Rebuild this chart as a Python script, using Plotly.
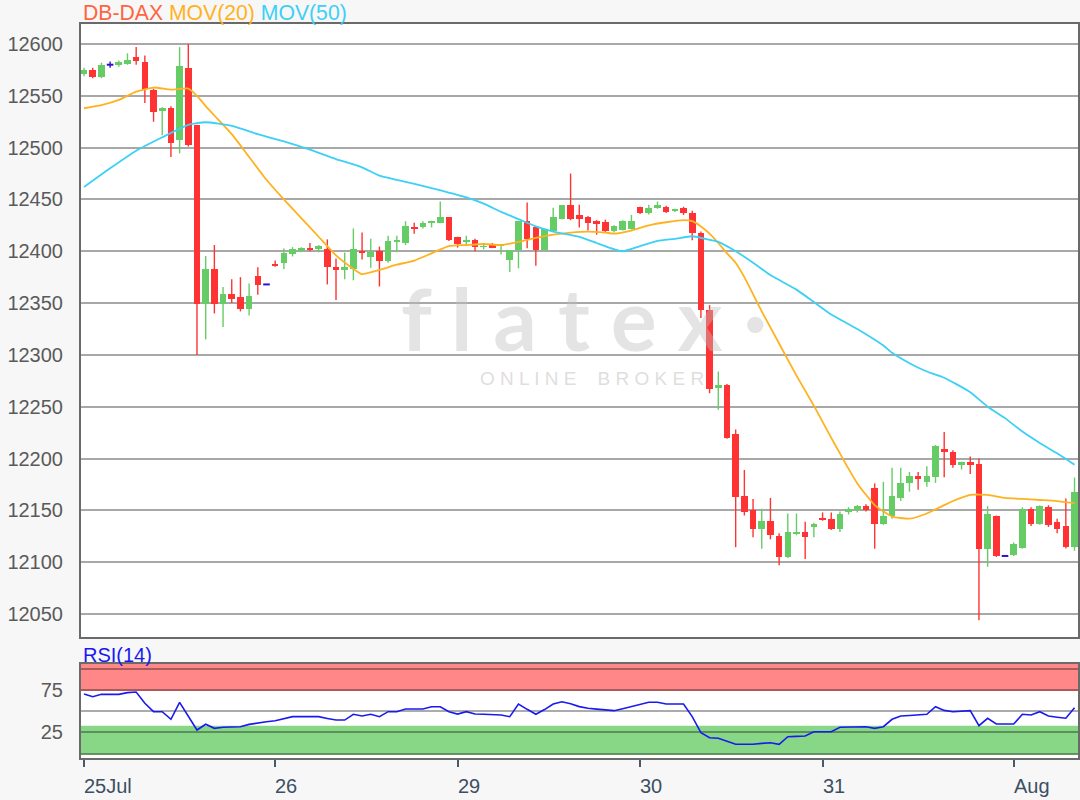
import plotly.graph_objects as go

# ---------------- data ----------------
opens = [12571, 12575, 12568, 12580, 12580, 12581, 12587, 12583, 12556, 12535,
         12538.6, 12507, 12577, 12522, 12349, 12383, 12349, 12359, 12355.6, 12344,
         12376, 12368, 12388, 12388.5, 12397, 12400, 12403.5, 12402.5, 12402, 12385,
         12382, 12383, 12400.3, 12394, 12400, 12391, 12409, 12408, 12423.4, 12423,
         12427, 12427.5, 12433, 12414, 12409, 12411, 12404.5, 12407, 12405.5, 12391.5,
         12401, 12429.4, 12423, 12401, 12420, 12431, 12444.3, 12435, 12432.6, 12429.4,
         12428, 12420, 12421, 12421.5, 12442.7, 12437, 12442, 12443, 12439, 12442,
         12436.5, 12418, 12343, 12268, 12271, 12223.5, 12163.5, 12150, 12132, 12140,
         12125, 12105, 12127, 12129, 12134, 12142, 12142, 12132, 12148, 12150,
         12154, 12172, 12137, 12144.4, 12161.5, 12176, 12183, 12177.5, 12182, 12209.6,
         12206.4, 12193.6, 12196.8, 12195, 12113, 12144.4, 12106, 12107, 12114, 12151,
         12137, 12153.4, 12139, 12135, 12115]
highs = [12577, 12577, 12582, 12583, 12584, 12591, 12597, 12589, 12557, 12539,
         12540, 12597, 12600, 12522, 12395.5, 12406, 12365.5, 12373, 12375, 12369,
         12384.6, 12368, 12391, 12402.6, 12404, 12404, 12408, 12406, 12411.5, 12393,
         12398.7, 12422, 12418, 12412, 12404.5, 12415, 12415, 12429, 12427.6, 12429,
         12429.5, 12448, 12433, 12414, 12415, 12412, 12407, 12408, 12407, 12401,
         12429.4, 12447, 12423, 12422, 12442, 12444.3, 12475, 12445, 12434, 12430,
         12430.5, 12425, 12430, 12435, 12443, 12445, 12448, 12444, 12441, 12443,
         12439, 12419, 12348, 12284, 12272, 12228, 12189, 12161, 12151.6, 12162,
         12128, 12147, 12147, 12139, 12138, 12148, 12148, 12149, 12153, 12155,
         12156, 12176, 12177.5, 12191, 12191, 12187, 12187, 12192.6, 12213, 12225.7,
         12208, 12197, 12202, 12200, 12154, 12145, 12106, 12119, 12153, 12153,
         12155, 12155, 12142, 12161.5, 12181.7]
lows = [12569, 12567, 12567, 12577, 12578, 12580, 12580, 12543, 12525, 12512,
        12491, 12494.5, 12501, 12300, 12315, 12340, 12327, 12350, 12342, 12338,
        12358, 12368, 12385, 12383, 12395, 12399, 12400, 12399, 12368, 12353,
        12373, 12372, 12392, 12384, 12366, 12389, 12399, 12406, 12417, 12422,
        12423, 12427, 12410, 12403.5, 12405, 12400, 12402, 12403, 12397, 12380,
        12383.5, 12403, 12386, 12401, 12420, 12431, 12430, 12423, 12420, 12416,
        12418, 12418, 12420, 12421, 12436, 12435.5, 12441, 12437, 12438, 12435,
        12410.6, 12335.5, 12263, 12247, 12219, 12114.5, 12145, 12124, 12113, 12122,
        12097, 12104, 12126, 12103, 12124, 12140, 12131, 12129, 12146, 12148,
        12149, 12113, 12136, 12142, 12159, 12168, 12170, 12172.7, 12176.5, 12182,
        12191, 12189.4, 12185, 12044, 12095.6, 12105, 12106, 12106, 12113, 12135,
        12136, 12134, 12128, 12113.3, 12111]
closes = [12575, 12568, 12580, 12580, 12583, 12584.5, 12584, 12557, 12534, 12538.6,
          12504, 12579, 12503, 12349, 12383, 12349, 12359, 12354, 12344, 12357,
          12367.5, 12368, 12385.5, 12398.7, 12402.6, 12403.5, 12401, 12405, 12385, 12382,
          12385, 12402, 12398, 12399, 12391, 12410, 12410, 12424, 12422, 12427.5,
          12429, 12433, 12410.6, 12406.7, 12411, 12404, 12405, 12403, 12406.5, 12401,
          12429.4, 12411.4, 12401, 12421.5, 12432.6, 12444.3, 12431.6, 12431.6, 12427, 12426,
          12420, 12424.7, 12429.4, 12429.4, 12437, 12442, 12445, 12438, 12440, 12437,
          12418, 12343, 12267, 12271, 12220, 12163, 12148.4, 12132.3, 12140, 12126,
          12105, 12129, 12129, 12124, 12137, 12141, 12132, 12146.8, 12151.5, 12154,
          12150, 12137, 12144.4, 12164, 12176, 12183, 12180, 12183, 12212, 12206.4,
          12193.6, 12196.8, 12194, 12113, 12146.4, 12106, 12106, 12118, 12151, 12136.7,
          12154, 12135.8, 12131.6, 12115, 12168]

ma20_idx = [0, 2, 4, 6, 8, 10, 12, 13, 14, 15, 17, 19, 21, 23, 25, 27, 29, 31, 32, 34,
            36, 38, 40, 42, 44, 46, 48, 50, 52, 54, 56, 58, 60, 61, 63, 65, 67, 69, 70, 71,
            72, 73, 74, 75, 76, 78, 80, 82, 84, 86, 87, 88, 89, 90, 91, 92, 93, 95, 97, 99,
            100, 102, 104, 106, 108, 110, 112, 114]
ma20_val = [12538, 12541, 12546, 12554, 12558, 12556, 12557, 12550, 12540, 12531, 12513,
            12491, 12469, 12450, 12432, 12414, 12396, 12383, 12378, 12382, 12387, 12391,
            12398, 12405, 12406, 12407, 12406, 12409, 12413, 12416, 12418, 12419, 12418,
            12417, 12420, 12425, 12428, 12430, 12429, 12424, 12417, 12408, 12398, 12389,
            12375, 12342, 12311, 12280, 12251, 12220, 12205, 12190, 12176, 12165, 12155,
            12149, 12144, 12142, 12147, 12155, 12159, 12165, 12165, 12162, 12161, 12160,
            12159, 12157]

ma50_idx = [0, 3, 6, 9, 12, 14, 17, 20, 23, 26, 29, 32, 34, 36, 40, 44, 46, 48, 50, 52,
            54, 57, 59, 61, 62, 64, 66, 68, 70, 72, 73, 75, 77, 79, 82, 84, 86, 89, 92, 93,
            95, 97, 99, 102, 104, 106, 108, 110, 112, 114]
ma50_val = [12462, 12480, 12497, 12510, 12522, 12524.5, 12521, 12513, 12506, 12498, 12489,
            12481, 12473, 12469, 12461, 12452, 12446, 12438, 12431, 12424, 12419, 12414,
            12408, 12402, 12400, 12405, 12410, 12412, 12414.5, 12411, 12409, 12400, 12389,
            12377, 12363, 12351, 12339, 12325, 12309, 12302, 12292, 12284, 12278, 12264,
            12250, 12239, 12226, 12215, 12205, 12194]

rsi_val = [70.4, 67.2, 70, 70, 70, 72, 72.8, 59.4, 49.5, 49.5,
           40.5, 60.6, 44, 27.8, 34.6, 29.8, 31, 31.7, 31.7, 34.5,
           36.4, 37.5, 38.8, 41, 43.6, 43.6, 43.6, 43.6, 41.5, 39.6,
           39.6, 46.4, 44.4, 46.4, 43.6, 49.5, 49.5, 52.7, 52.7, 52.7,
           55.4, 55.4, 49.5, 46.7, 49.5, 46.7, 46.5, 46, 45.5, 43.6,
           58.6, 52.3, 46.4, 52, 58.6, 61.3, 59, 55.5, 53.5, 52.5,
           51.5, 50.7, 53, 55.4, 58, 60.6, 60.6, 58.6, 58.6, 58.6,
           43.6, 24.6, 18.7, 18, 14.5, 10.9, 10.9, 10.9, 12, 12.8,
           10.9, 19.9, 20.3, 20.7, 25.8, 25.8, 25.8, 31, 31.3, 31.5,
           31.7, 29.8, 31.7, 40.5, 44.4, 45, 45.7, 46.4, 55.4, 51,
           49.5, 50.5, 50.7, 32.9, 41.7, 34.9, 34.9, 34.9, 46.4, 45.6,
           49.5, 44.4, 43, 41.7, 54.2]

day_labels = ["25Jul", "26", "29", "30", "31", "Aug"]
day_start = [0, 22, 43, 64, 85, 107]

price_ticks = [12050, 12100, 12150, 12200, 12250, 12300, 12350, 12400, 12450, 12500, 12550, 12600]
rsi_ticks = [0, 25, 50, 75, 100]
rsi_ticktext = ["", "25", "", "75", ""]
rsi_overbought = [74, 107]
rsi_oversold = [-1.4, 33]

# ---------------- styles ----------------
GREEN = "#66cc66"
RED = "#ff3333"
DOJI = "#3311cc"
FONT = "Liberation Sans, Arial, sans-serif"
BODY_W = 0.76

n = len(opens)
idx = list(range(n))

up = [i for i in idx if closes[i] > opens[i]]
dn = [i for i in idx if closes[i] < opens[i]]
dj = [i for i in idx if closes[i] == opens[i]]


def wick_xy(ids):
    xs, ys = [], []
    for i in ids:
        xs += [i, i, None]
        ys += [lows[i], highs[i], None]
    return xs, ys


fig = go.Figure()

for ids, col in ((up, GREEN), (dn, RED), (dj, DOJI)):
    wx, wy = wick_xy(ids)
    fig.add_trace(go.Scatter(x=wx, y=wy, mode="lines", line=dict(color=col, width=1.4),
                             hoverinfo="skip", showlegend=False, xaxis="x", yaxis="y"))

for ids, col in ((up, GREEN), (dn, RED)):
    fig.add_trace(go.Bar(x=ids,
                         y=[abs(closes[i] - opens[i]) for i in ids],
                         base=[min(opens[i], closes[i]) for i in ids],
                         width=BODY_W, marker=dict(color=col, line=dict(width=0)),
                         showlegend=False, xaxis="x", yaxis="y"))

# doji bars: horizontal dash at the open/close level
dx, dy = [], []
for i in dj:
    dx += [i - BODY_W / 2, i + BODY_W / 2, None]
    dy += [opens[i], closes[i], None]
fig.add_trace(go.Scatter(x=dx, y=dy, mode="lines", line=dict(color=DOJI, width=2),
                         showlegend=False, xaxis="x", yaxis="y"))

fig.add_trace(go.Scatter(x=ma20_idx, y=ma20_val, mode="lines",
                         line=dict(color="#ffb21f", width=1.8, shape="spline", smoothing=0.5),
                         showlegend=False, xaxis="x", yaxis="y"))
fig.add_trace(go.Scatter(x=ma50_idx, y=ma50_val, mode="lines",
                         line=dict(color="#3dd0f5", width=1.8, shape="spline", smoothing=0.5),
                         showlegend=False, xaxis="x", yaxis="y"))

fig.add_trace(go.Scatter(x=idx, y=rsi_val, mode="lines",
                         line=dict(color="#1a1af0", width=1.6),
                         showlegend=False, xaxis="x2", yaxis="y2"))

x_range = [-0.35, 114.4]

fig.update_layout(
    width=1080, height=800, autosize=False,
    margin=dict(l=0, r=0, t=0, b=0),
    paper_bgcolor="#f7f7f7", plot_bgcolor="#ffffff",
    font=dict(family=FONT, size=20, color="#5a5a5a"),
    barmode="overlay", bargap=0,
    showlegend=False,
    xaxis=dict(domain=[81 / 1080, 1078 / 1080], range=x_range, showgrid=False,
               showticklabels=False, ticks="", zeroline=False,
               showline=True, mirror=True, linecolor="#6a6a6a", linewidth=2, anchor="y"),
    yaxis=dict(domain=[1 - 637 / 800, 1 - 24 / 800], range=[12027.8, 12619.3],
               tickvals=price_ticks, ticktext=[str(v) for v in price_ticks],
               showgrid=True, gridcolor="#a8a8a8", gridwidth=2, zeroline=False,
               showline=True, mirror=True, linecolor="#6a6a6a", linewidth=2,
               ticks="", ticklabelstandoff=12, tickfont=dict(size=20, color="#5a5a5a"),
               anchor="x"),
    xaxis2=dict(domain=[81 / 1080, 1078 / 1080], range=x_range, matches="x",
                showgrid=False, tickvals=day_start, showticklabels=False,
                ticks="outside", ticklen=7, tickwidth=2, tickcolor="#4a5a6a",
                zeroline=False, showline=True, mirror=True, linecolor="#6a6a6a",
                linewidth=2, anchor="y2"),
    yaxis2=dict(domain=[1 - 758 / 800, 1 - 663.5 / 800], range=[-5.3, 106.5],
                tickvals=rsi_ticks, ticktext=rsi_ticktext,
                showgrid=True, gridcolor="rgba(0,0,0,0.33)", gridwidth=1.5, zeroline=False,
                showline=True, mirror=True, linecolor="#6a6a6a", linewidth=2,
                ticks="", ticklabelstandoff=12, tickfont=dict(size=20, color="#5a5a5a"),
                anchor="x2"),
)

# RSI zones (under the grid)
fig.add_shape(type="rect", xref="x2", yref="y2", x0=x_range[0], x1=x_range[1],
              y0=rsi_overbought[0], y1=rsi_overbought[1],
              fillcolor="#ff8787", line=dict(width=0), layer="below")
fig.add_shape(type="rect", xref="x2", yref="y2", x0=x_range[0], x1=x_range[1],
              y0=rsi_oversold[0], y1=rsi_oversold[1],
              fillcolor="#88d787", line=dict(width=0), layer="below")

# watermark
fig.add_annotation(xref="x", yref="y", x=57.5, y=12336, showarrow=False,
                   text="f l a t e x ·",
                   font=dict(family="Lato, sans-serif", size=86, weight=700,
                             color="rgba(190,190,190,0.42)"))
fig.add_annotation(xref="x", yref="y", x=58.5, y=12277, showarrow=False,
                   text="O N L I N E    B R O K E R",
                   font=dict(family=FONT, size=19, color="rgba(190,190,190,0.5)"))

# header texts
fig.add_annotation(xref="paper", yref="paper", x=81 / 1080, y=1 - 13 / 800,
                   xanchor="left", yanchor="middle", showarrow=False,
                   text='<span style="color:#ff6440">DB-DAX</span> '
                        '<span style="color:#ffb21f">MOV(20)</span> '
                        '<span style="color:#3dd0f5">MOV(50)</span>',
                   font=dict(family=FONT, size=21.2))
fig.add_annotation(xref="paper", yref="paper", x=81 / 1080, y=1 - 655 / 800,
                   xanchor="left", yanchor="middle", showarrow=False,
                   text="RSI(14)", font=dict(family=FONT, size=20, color="#1a1af0"))

# day labels, left-aligned at their tick
for pos, lab in zip(day_start, day_labels):
    fig.add_annotation(xref="x2", yref="paper", x=pos, y=1 - 786 / 800,
                       xanchor="left", yanchor="middle", showarrow=False, xshift=-2,
                       text=lab, font=dict(family=FONT, size=20, color="#3d4f63"))

fig.write_html("out.html", config={"displayModeBar": False},
               post_script="document.body.style.margin='0';document.body.style.overflow='hidden';")
